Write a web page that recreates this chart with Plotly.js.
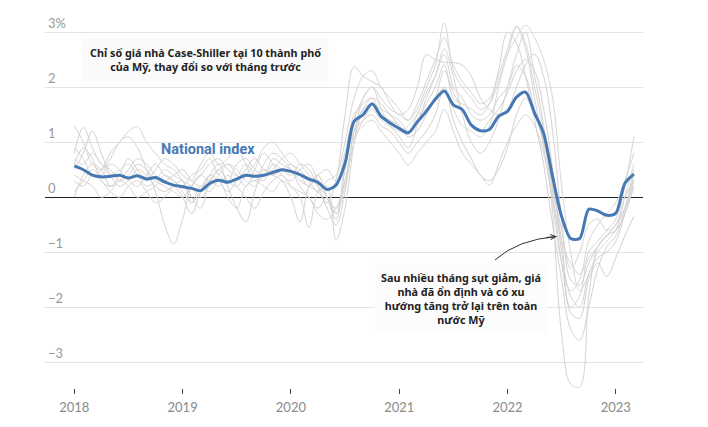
<!DOCTYPE html>
<html>
<head>
<meta charset="utf-8">
<script src="https://cdn.plot.ly/plotly-3.0.1.min.js"></script>
<style>html,body{margin:0;padding:0;background:#fff}#chart{width:708px;height:427px}</style>
</head>
<body>
<div id="chart"></div>
<script>
// Monthly values, Jan 2018 .. Mar 2023 (63 months)
const startYear = 2018;
const yearTicks = [2018, 2019, 2020, 2021, 2022, 2023];
const yTicks = [-3, -2, -1, 0, 1, 2, 3];
const yTickText = ["\u22123", "\u22122", "\u22121", "0", "1", "2", "3%"];

const national = [
  0.57,0.50,0.40,0.37,0.38,0.40,0.35,0.39,0.33,0.36,0.28,0.22,
  0.19,0.16,0.12,0.25,0.31,0.27,0.33,0.40,0.38,0.40,0.45,0.50,
  0.47,0.41,0.33,0.27,0.14,0.22,0.62,1.38,1.50,1.70,1.47,1.35,
  1.25,1.17,1.37,1.56,1.78,1.93,1.68,1.59,1.31,1.21,1.23,1.47,
  1.56,1.82,1.91,1.53,1.16,0.37,-0.35,-0.75,-0.75,-0.22,-0.25,-0.33,
  -0.29,0.25,0.42
];

const boston = [
  1.30,1.0,0.6,0.5,0.7,1.0,1.1,0.9,0.5,0.1,-0.5,-0.85,
  -0.4,0.2,0.4,0.3,0.5,0.6,0.4,0.2,0.5,0.8,0.6,0.4,
  0.3,0.5,0.6,0.3,0.0,-0.2,0.3,1.0,1.6,1.8,1.7,1.5,
  1.4,1.2,1.5,1.9,2.2,2.6,2.0,1.8,1.5,1.4,1.5,1.8,
  2.0,2.4,2.2,1.6,1.0,0.2,-0.6,-1.3,-1.0,-0.5,-0.4,-0.6,
  -0.5,0.0,0.3
];
const chicago = [
  0.9,0.7,0.4,0.5,0.8,1.0,1.2,1.28,1.0,0.8,0.6,0.5,
  0.3,0.0,-0.2,0.3,0.5,0.3,0.2,0.4,0.6,0.9,1.0,0.8,
  0.6,0.5,0.3,0.1,0.3,0.4,1.0,1.8,2.2,2.3,2.0,1.8,
  1.6,1.4,1.6,2.0,2.4,3.17,2.3,2.0,1.8,1.6,1.7,2.1,
  2.6,3.1,2.8,2.0,1.2,0.1,-1.2,-2.0,-1.8,-1.0,-0.8,-0.6,
  -0.4,0.2,1.1
];
const denver = [
  0.5,0.8,1.2,0.8,0.4,0.2,0.3,0.5,0.4,0.2,0.1,0.2,
  0.0,-0.3,0.1,0.4,0.6,0.2,-0.2,-0.45,0.1,0.5,0.4,0.3,
  0.0,-0.45,0.2,0.4,0.0,-0.4,0.5,1.2,1.4,1.5,1.3,1.2,
  1.0,0.8,1.0,1.2,1.5,2.0,1.4,1.0,0.7,0.4,0.3,0.5,
  0.9,1.5,1.8,1.5,1.0,0.2,-0.8,-2.1,-2.2,-1.5,-1.2,-1.44,
  -1.1,-0.7,-0.35
];
const lasVegas = [
  0.1,0.3,0.5,0.4,0.6,0.5,0.3,0.2,0.4,0.6,0.4,0.3,
  0.2,0.4,0.5,0.7,0.4,0.3,0.6,0.7,0.5,0.4,0.7,0.6,
  0.5,0.3,0.2,0.1,-0.1,0.3,1.5,2.37,2.2,2.1,2.0,1.7,
  1.5,1.6,2.0,2.59,2.5,2.45,2.45,2.4,2.2,1.8,1.6,1.5,
  1.6,2.0,2.4,2.6,2.2,1.2,-0.4,-1.5,-1.6,-1.2,-0.9,-0.7,
  -0.5,-0.2,0.4
];
const losAngeles = [
  0.7,0.6,0.8,0.6,0.4,0.5,0.6,0.4,0.2,0.3,0.5,0.4,
  0.3,0.2,0.0,0.2,0.4,0.6,0.5,0.3,0.2,0.4,0.5,0.7,
  0.8,0.6,0.4,0.2,0.0,-0.3,0.2,1.0,1.4,1.6,1.4,1.3,
  1.2,1.3,1.5,1.6,1.8,2.0,1.6,1.3,1.2,1.1,1.3,2.0,
  2.6,2.9,3.13,2.9,2.5,1.8,0.2,-1.0,-1.7,-1.4,-1.0,-0.8,
  -0.6,0.0,0.6
];
const miami = [
  0.3,0.2,0.4,0.3,0.1,0.0,0.2,0.3,0.1,-0.1,0.0,0.2,
  0.3,-0.1,0.1,0.3,0.2,0.4,0.2,0.0,-0.2,0.1,0.3,0.4,
  0.2,0.0,-0.55,0.1,0.2,-0.78,-0.2,1.0,1.8,2.0,1.6,1.3,
  1.1,0.9,1.3,1.8,2.2,2.7,2.2,1.5,1.0,0.8,1.0,1.4,
  2.0,2.6,3.0,2.2,1.3,-0.3,-2.5,-3.4,-3.45,-1.8,-0.9,-0.7,
  -0.6,-0.3,0.2
];
const newYork = [
  0.0,0.4,0.6,0.5,0.2,0.3,0.5,0.7,0.6,0.4,0.3,0.4,
  0.5,0.3,0.2,0.4,0.3,0.1,0.3,0.5,0.7,0.5,0.4,0.5,
  0.6,0.4,0.2,0.4,0.5,0.3,0.8,1.5,1.7,1.8,1.5,1.4,
  1.3,1.1,1.2,1.5,1.8,2.3,1.9,1.6,1.3,1.2,1.4,1.6,
  1.9,2.3,2.5,2.3,1.6,0.5,-1.0,-1.8,-2.0,-1.4,-1.1,-1.0,
  -0.8,-0.3,0.3
];
const sanDiego = [
  0.8,1.27,0.9,0.6,0.5,0.3,0.4,0.6,0.5,0.3,0.2,0.1,
  0.0,0.2,0.4,0.6,0.7,0.5,0.4,0.6,0.4,0.3,0.6,0.5,
  0.4,0.6,0.5,0.2,-0.2,-0.5,0.1,1.2,1.6,1.7,1.6,1.5,
  1.3,1.2,1.4,1.7,2.0,2.4,1.8,1.7,1.6,1.5,1.7,2.3,
  3.0,2.8,2.2,1.4,0.6,-0.5,-1.5,-2.4,-2.6,-2.0,-1.3,-0.9,
  -0.7,-0.2,0.5
];
const sanFrancisco = [
  0.4,0.3,0.2,0.0,0.1,0.3,0.2,0.0,0.1,0.2,0.4,0.3,
  0.1,-0.1,0.2,0.1,0.3,0.0,-0.2,0.2,0.3,0.2,0.1,0.3,
  0.2,0.1,0.0,-0.3,-0.4,-0.2,0.3,1.1,1.3,1.4,1.2,1.0,
  0.8,0.59,0.8,1.0,1.2,1.6,1.2,0.8,0.6,0.4,0.22,0.6,
  1.0,1.3,1.5,1.3,0.8,0.0,-0.8,-1.2,-1.4,-1.1,-0.9,-0.7,
  -0.6,-0.3,0.2
];
const washington = [
  0.6,0.9,0.7,0.3,0.2,0.4,0.7,0.5,0.3,0.5,0.7,0.6,
  0.4,0.3,0.6,0.8,0.6,0.7,0.9,0.6,0.3,0.6,0.8,0.7,
  0.5,0.2,0.0,-0.2,0.0,-0.3,0.6,1.4,1.8,2.0,1.8,1.6,
  1.5,1.4,1.7,2.1,2.5,2.9,2.4,2.1,1.9,1.7,1.8,2.2,
  2.7,3.11,2.7,1.8,0.9,-0.1,-1.2,-1.7,-1.5,-0.8,-0.5,-0.3,
  -0.1,0.3,0.8
];

const cities = [boston, chicago, denver, lasVegas, losAngeles, miami, newYork, sanDiego, sanFrancisco, washington];
const cityColors = ["#d4d4d4","#d6d6d6","#dccdc6","#d2d2d2","#d8d8d8","#d4d4d4","#dacfca","#d2d2d2","#d6d6d6","#d4d4d4"];

const months = national.map((_, i) => startYear + i / 12);

const traces = cities.map((vals, k) => ({
  x: months, y: vals, type: "scatter", mode: "lines",
  line: {color: cityColors[k], width: 1, shape: "spline", smoothing: 1},
  hoverinfo: "skip", showlegend: false
}));
traces.push({
  x: months, y: national, type: "scatter", mode: "lines", name: "National index",
  line: {color: "#4679b4", width: 3, shape: "spline", smoothing: 0.8},
  showlegend: false
});

const noteFont = {family: "'Noto Sans', 'Open Sans', sans-serif", size: 10.8, color: "#222"};

const layout = {
  width: 708, height: 427,
  margin: {l: 45, r: 65, t: 13, b: 39},
  paper_bgcolor: "#fff", plot_bgcolor: "#fff",
  font: {family: "Lato, 'Open Sans', sans-serif", color: "#888"},
  xaxis: {
    range: [2017.7295, 2023.251],
    tickvals: yearTicks, ticktext: yearTicks.map(String),
    ticks: "outside", ticklen: 5, tickwidth: 1, tickcolor: "#444",
    ticklabelstandoff: 2,
    showgrid: false, zeroline: false, showline: false,
    tickfont: {size: 13, color: "#8a8a8a", family: "Lato, sans-serif"}
  },
  yaxis: {
    range: [-3.47, 3.35],
    tickvals: yTicks, ticktext: yTickText,
    ticklabelposition: "inside top",
    ticklabelshift: 0,
    showgrid: true, gridcolor: "#e2e2e2", gridwidth: 1,
    zeroline: true, zerolinecolor: "#222", zerolinewidth: 1,
    showline: false, ticks: "",
    tickfont: {size: 13, color: "#999", family: "Lato, sans-serif"}
  },
  shapes: [{
    type: "path", xref: "x", yref: "y",
    path: "M 2021.885,-1.14 Q 2022.097,-0.767 2022.454,-0.716",
    line: {color: "#333", width: 1}
  }],
  annotations: [
    {
      xref: "paper", yref: "paper", x: (205 - 45) / 598, y: (388 - 59) / 375,
      xanchor: "center", yanchor: "middle",
      text: "<b>Chỉ số giá nhà Case-Shiller tại 10 thành phố<br>của Mỹ, thay đổi so với tháng trước</b>",
      showarrow: false, align: "center", font: noteFont,
      bgcolor: "rgba(250,250,250,0.9)", borderpad: 7
    },
    {
      xref: "paper", yref: "paper", x: (208 - 45) / 598, y: (388 - 150) / 375,
      xanchor: "center", yanchor: "middle",
      text: "<b>National index</b>", showarrow: false,
      font: {family: "Roboto, sans-serif", size: 14.5, color: "#4679b4"}
    },
    {
      xref: "paper", yref: "paper", x: (461 - 45) / 598, y: (388 - 298.5) / 375,
      xanchor: "center", yanchor: "middle",
      text: "<b>Sau nhiều tháng sụt giảm, giá<br>nhà đã ổn định và có xu<br>hướng tăng trở lại trên toàn<br>nước Mỹ</b>",
      showarrow: false, align: "center", font: noteFont,
      bgcolor: "rgba(252,252,252,0.95)", borderpad: 6
    },
    {
      xref: "x", yref: "y", x: 2022.454, y: -0.716,
      ax: -12, ay: 1, axref: "pixel", ayref: "pixel",
      text: "", showarrow: true, arrowhead: 5, arrowsize: 1, arrowwidth: 1, arrowcolor: "#333"
    }
  ]
};

Plotly.newPlot("chart", traces, layout, {displayModeBar: false, staticPlot: true});
</script>
</body>
</html>
